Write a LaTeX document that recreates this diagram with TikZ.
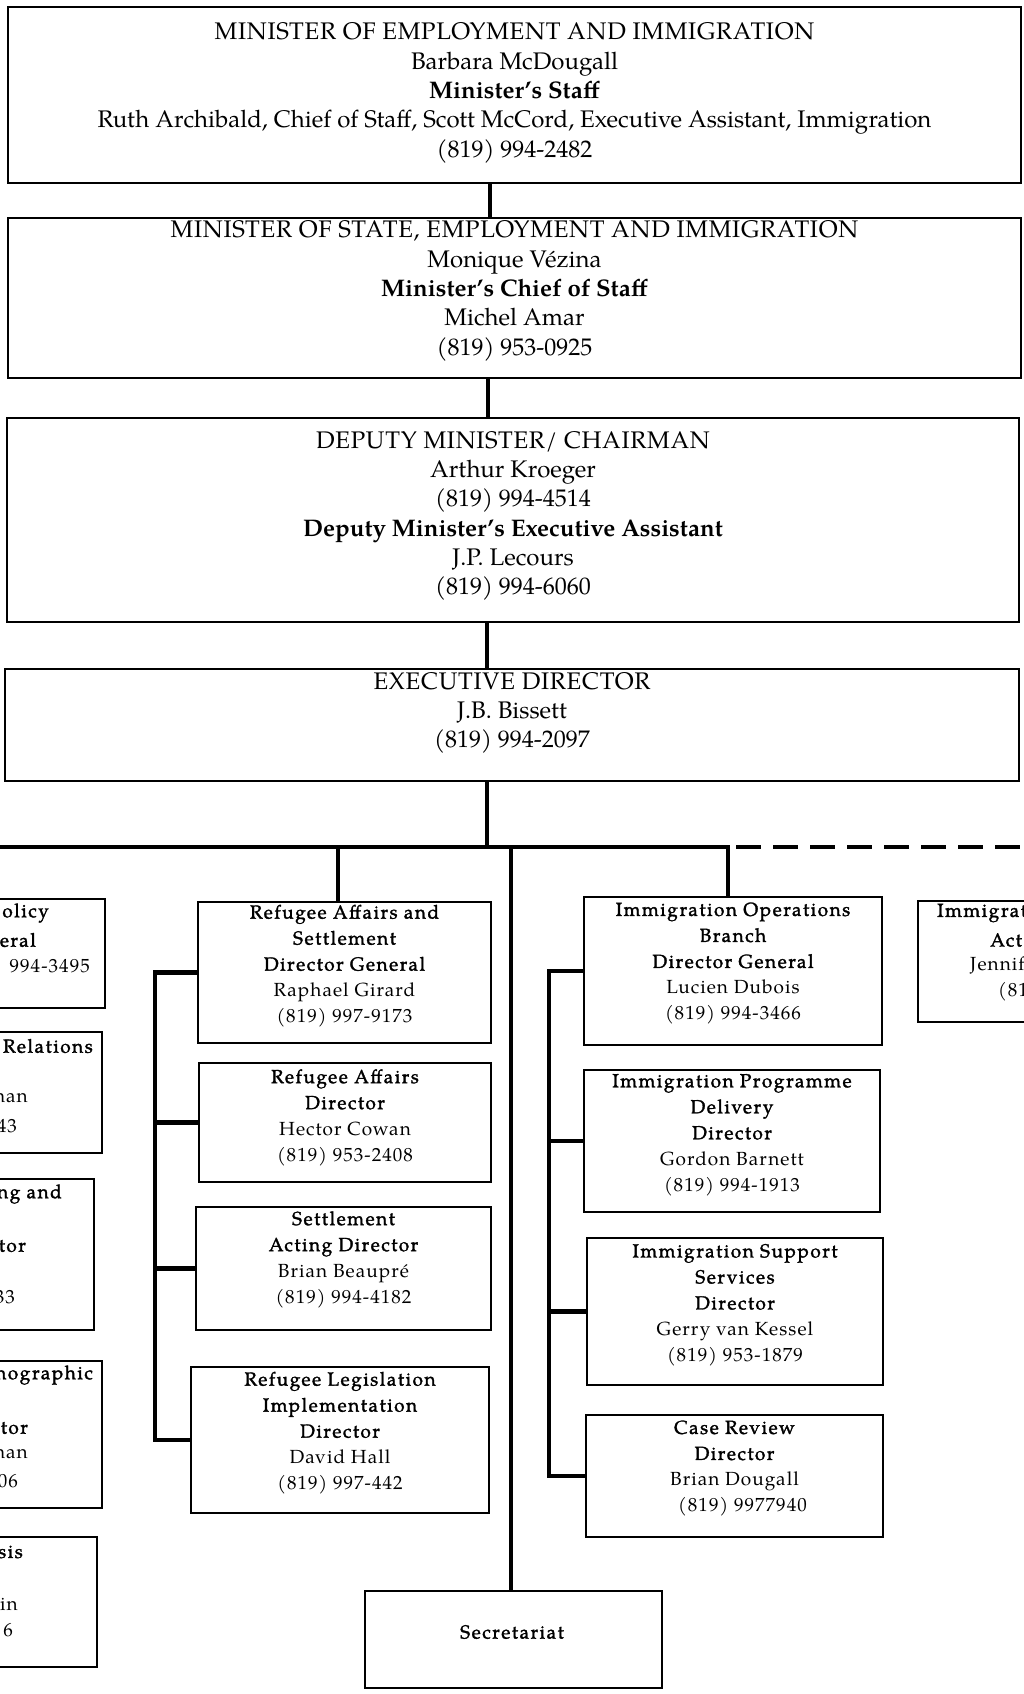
\documentclass[tikz,border=0pt]{standalone}
\usepackage{fontspec}
\setmainfont{TeX Gyre Pagella}
\newfontfamily\capsfont[LetterSpace=3]{TeX Gyre Pagella}
\newfontfamily\lowfont[LetterSpace=5.5]{TeX Gyre Pagella}
\newfontfamily\lowbold[LetterSpace=8,FakeBold=1.6]{TeX Gyre Pagella}
\usetikzlibrary{calc}
\newcommand\boldline[1]{{\lowbold #1}}
\newcommand\capsline[1]{{\capsfont #1}}
\newcommand\orgbox[5]{\node[box, minimum width={(#4)-(#2)}, minimum height={(#5)-(#3)}] (#1) at ({((#2)+(#4))/2},{((#3)+(#5))/2}) {};}
\tikzset{
  box/.style={draw, line width=2.5pt, inner sep=0pt},
  link/.style={line width=4.5pt},
  toptext/.style={align=center, inner sep=0pt, font=\fontsize{24}{29.3}\selectfont},
  lowtext/.style={align=center, inner sep=0pt, font=\lowfont\fontsize{19}{26}\selectfont},
}
\begin{document}
\begin{tikzpicture}[x=1pt,y=-1pt]
\useasboundingbox (0,0) rectangle (1024,1694);
\clip (0,0) rectangle (1024,1694);

% boxes
\orgbox{b1}{8}{7}{1021}{183}
\orgbox{b2}{8}{218}{1021}{378}
\orgbox{b3}{7}{418}{1019}{622}
\orgbox{b4}{5}{669}{1019}{781}
\orgbox{l1}{-60}{899}{105}{1008}
\orgbox{l2}{-60}{1032}{102}{1153}
\orgbox{l3}{-60}{1179}{94}{1330}
\orgbox{l4}{-60}{1361}{102}{1508}
\orgbox{l5}{-60}{1537}{97}{1667}
\orgbox{r1}{198}{902}{491}{1043}
\orgbox{r2}{199}{1063}{491}{1182}
\orgbox{r3}{196}{1207}{491}{1330}
\orgbox{r4}{191}{1367}{489}{1513}
\orgbox{i1}{584}{897}{882}{1045}
\orgbox{i2}{584}{1070}{880}{1212}
\orgbox{i3}{587}{1238}{883}{1385}
\orgbox{i4}{586}{1415}{883}{1537}
\orgbox{fr}{918}{901}{1100}{1022}
\orgbox{sec}{365}{1591}{662}{1688}

% top texts
\node[toptext] (b1t) at (514.5,93) {\capsline{MINISTER OF EMPLOYMENT AND IMMIGRATION}\\Barbara McDougall\\\textbf{Minister's Staff}\\Ruth Archibald, Chief of Staff, Scott McCord, Executive Assistant, Immigration\\(819) 994-2482};
\node[toptext] (b2t) at (514.5,291) {\capsline{MINISTER OF STATE, EMPLOYMENT AND IMMIGRATION}\\Monique Vézina\\\textbf{Minister's Chief of Staff}\\Michel Amar\\(819) 953-0925};
\node[toptext] (b3t) at (513,516) {\capsline{DEPUTY MINISTER/ CHAIRMAN}\\Arthur Kroeger\\(819) 994-4514\\\textbf{Deputy Minister's Executive Assistant}\\J.P. Lecours\\(819) 994-6060};
\node[toptext] (b4t) at (512,713) {\capsline{EXECUTIVE DIRECTOR}\\J.B. Bissett\\(819) 994-2097};

% lower texts
\node[lowtext] (r1t) at (344.5,966) {\boldline{Refugee Affairs and}\\\boldline{Settlement}\\\boldline{Director General}\\Raphael Girard\\(819) 997-9173};
\node[lowtext] (r2t) at (345,1117.5) {\boldline{Refugee Affairs}\\\boldline{Director}\\Hector Cowan\\(819) 953-2408};
\node[lowtext] (r3t) at (343.5,1259.5) {\boldline{Settlement}\\\boldline{Acting Director}\\Brian Beaupré\\(819) 994-4182};
\node[lowtext] (r4t) at (340,1433) {\boldline{Refugee Legislation}\\\boldline{Implementation}\\\boldline{Director}\\David Hall\\(819) 997-442};
\node[lowtext] (i1t) at (733,963.5) {\boldline{Immigration Operations}\\\boldline{Branch}\\\boldline{Director General}\\Lucien Dubois\\(819) 994-3466};
\node[lowtext] (i2t) at (732,1135) {\boldline{Immigration Programme}\\\boldline{Delivery}\\\boldline{Director}\\Gordon Barnett\\(819) 994-1913};
\node[lowtext] (i3t) at (735,1305) {\boldline{Immigration Support}\\\boldline{Services}\\\boldline{Director}\\Gerry van Kessel\\(819) 953-1879};
\node[lowtext] (i4t) at (734.5,1468.5) {\boldline{Case Review}\\\boldline{Director}\\Brian Dougall\\\hspace*{16pt}(819) 9977940};
\node[lowtext] (sect) at (512,1632) {\boldline{Secretariat}};

% clipped fragments, left column
\node[lowtext,anchor=east] (l1a) at (49,913) {\boldline{olicy}};
\node[lowtext,anchor=east] (l1b) at (36,940) {\boldline{eral}};
\node[lowtext,anchor=east] (l1c) at (90,966) {994-3495};
\node[lowtext,anchor=east] (l2a) at (93,1046) {\boldline{Relations}};
\node[lowtext,anchor=east] (l2b) at (28,1098) {nan};
\node[lowtext,anchor=east] (l2c) at (17,1126) {43};
\node[lowtext,anchor=east] (l3a) at (62,1194) {\boldline{ng and}};
\node[lowtext,anchor=east] (l3b) at (26,1246) {\boldline{tor}};
\node[lowtext,anchor=east] (l3c) at (15,1297) {33};
\node[lowtext,anchor=east] (l4a) at (93,1375) {\boldline{nographic}};
\node[lowtext,anchor=east] (l4b) at (28,1428) {\boldline{tor}};
\node[lowtext,anchor=east] (l4c) at (28,1454) {nan};
\node[lowtext,anchor=east] (l4d) at (18,1481) {06};
\node[lowtext,anchor=east] (l5a) at (23,1552) {\boldline{sis}};
\node[lowtext,anchor=east] (l5b) at (18,1604) {in};
\node[lowtext,anchor=east] (l5c) at (13,1630) {6};
% clipped fragments, right box
\node[lowtext,anchor=west] (fra) at (937,913) {\boldline{Immigrat}};
\node[lowtext,anchor=west] (frb) at (990,940) {\boldline{Act}};
\node[lowtext,anchor=west] (frc) at (970,965) {Jennif};
\node[lowtext,anchor=west] (frd) at (998,992) {(81};

% connectors
\coordinate (t1) at (490,0);
\coordinate (t2) at (488,0);
\coordinate (t3) at (487,0);
\coordinate (barL) at (-5,847);
\coordinate (barM) at (728,847);
\coordinate (barR) at (1030,847);
\coordinate (s1) at (338,847);
\coordinate (s2) at (511,847);
\coordinate (bx1) at (155,0);
\coordinate (bx2) at (549,0);

\draw[link] (b1.south -| t1) -- (b2.north -| t1);
\draw[link] (b2.south -| t2) -- (b3.north -| t2);
\draw[link] (b3.south -| t3) -- (b4.north -| t3);
\draw[link] (b4.south -| t3) -- (barL -| t3);
\draw[link] (barL) -- (barM) -- (barM |- i1.north);
\draw[link, dash pattern=on 25pt off 12pt, dash phase=29pt] (barM) -- (barR);
\draw[link] (s1) -- (s1 |- r1.north);
\draw[link] (s2) -- (s2 |- sec.north);

\draw[link] (r1.west) -- (r1.west -| bx1) -- (r4.west -| bx1) -- (r4.west);
\draw[link] (r2.west -| bx1) -- (r2.west);
\draw[link] (r3.west -| bx1) -- (r3.west);

\draw[link] (i1.west) -- (i1.west -| bx2) -- (i4.west -| bx2) -- (i4.west);
\draw[link] (i2.west -| bx2) -- (i2.west);
\draw[link] (i3.west -| bx2) -- (i3.west);
\end{tikzpicture}
\end{document}
